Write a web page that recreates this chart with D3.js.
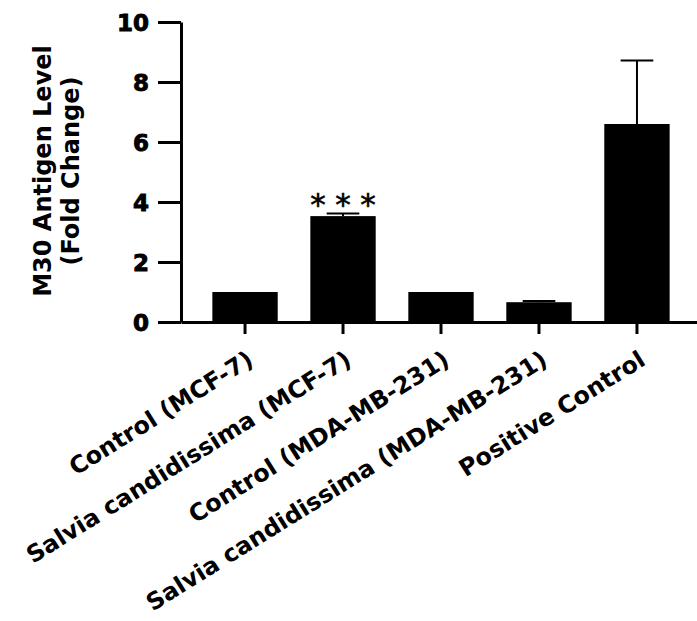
<!DOCTYPE html>
<html>
<head>
<meta charset="utf-8">
<script src="https://cdn.jsdelivr.net/npm/d3@7"></script>
<style>
  html, body { margin: 0; padding: 0; background: #fff; }
  svg { display: block; }
  text { font-family: "DejaVu Sans", sans-serif; font-weight: bold; fill: #000; }
</style>
</head>
<body>
<svg id="chart" width="697" height="621"></svg>
<script>
const categories = [
  "Control (MCF-7)",
  "Salvia candidissima (MCF-7)",
  "Control (MDA-MB-231)",
  "Salvia candidissima (MDA-MB-231)",
  "Positive Control"
];
const means  = [1.0, 3.53, 1.0, 0.66, 6.6];
const errors = [0.0, 0.09, 0.0, 0.04, 2.12];
const significance = ["", "***", "", "", ""];
const yTicks = [0, 2, 4, 6, 8, 10];
const yTitle = ["M30 Antigen Level", "(Fold Change)"];

const svg = d3.select("#chart");
svg.append("rect").attr("width", 697).attr("height", 621).attr("fill", "#fff");

const y = d3.scaleLinear().domain([0, 10]).range([322, 22]);
const x = d3.scaleBand().domain(categories).range([181, 701])
  .paddingInner(0.333).paddingOuter(0.32);

// bars
svg.append("g").selectAll("rect").data(categories).join("rect")
  .attr("x", d => x(d))
  .attr("width", x.bandwidth())
  .attr("y", (d, i) => y(means[i]))
  .attr("height", (d, i) => y(0) - y(means[i]))
  .attr("fill", "#000");

// error bars
const eb = svg.append("g").attr("stroke", "#000").attr("stroke-width", 2);
categories.forEach((c, i) => {
  if (!errors[i]) return;
  const cx = x(c) + x.bandwidth() / 2;
  const half = x.bandwidth() / 4;
  eb.append("line").attr("x1", cx).attr("x2", cx)
    .attr("y1", y(means[i])).attr("y2", y(means[i] + errors[i]));
  eb.append("line").attr("x1", cx - half).attr("x2", cx + half)
    .attr("y1", y(means[i] + errors[i])).attr("y2", y(means[i] + errors[i]));
});

// significance stars
categories.forEach((c, i) => {
  if (!significance[i]) return;
  const cx = x(c) + x.bandwidth() / 2;
  const n = significance[i].length;
  for (let k = 0; k < n; k++) {
    svg.append("text")
      .attr("x", cx + (k - (n - 1) / 2) * 25)
      .attr("y", y(means[i] + errors[i]) + 2)
      .attr("text-anchor", "middle")
      .style("font-weight", "normal")
      .style("font-size", "31px")
      .attr("stroke", "#000").attr("stroke-width", 0.6)
      .text(significance[i][k]);
  }
});

// y axis
const yAxis = svg.append("g").attr("transform", "translate(181,0)")
  .call(d3.axisLeft(y).tickValues(yTicks).tickSize(23).tickSizeOuter(0).tickPadding(9));
yAxis.selectAll("path, line").attr("stroke", "#000").attr("stroke-width", 3);
yAxis.selectAll("text")
  .style("font-size", "23px")
  .attr("stroke", "#000").attr("stroke-width", 0.9)
  .attr("dy", "0.36em");

// x axis
const xAxis = svg.append("g").attr("transform", "translate(0,322)")
  .call(d3.axisBottom(x).tickSize(12).tickSizeOuter(0));
xAxis.selectAll("path, line").attr("stroke", "#000").attr("stroke-width", 3);
xAxis.selectAll("text")
  .style("font-size", "23.8px")
  .attr("text-anchor", "end")
  .attr("x", 0).attr("y", 0).attr("dy", 0)
  .attr("transform", "translate(10,42) rotate(-32)");

// y title
yTitle.forEach((t, i) => {
  svg.append("text")
    .attr("transform", `translate(${51 + i * 28},171) rotate(-90)`)
    .attr("text-anchor", "middle")
    .style("font-size", "24px")
    .text(t);
});
</script>
</body>
</html>
